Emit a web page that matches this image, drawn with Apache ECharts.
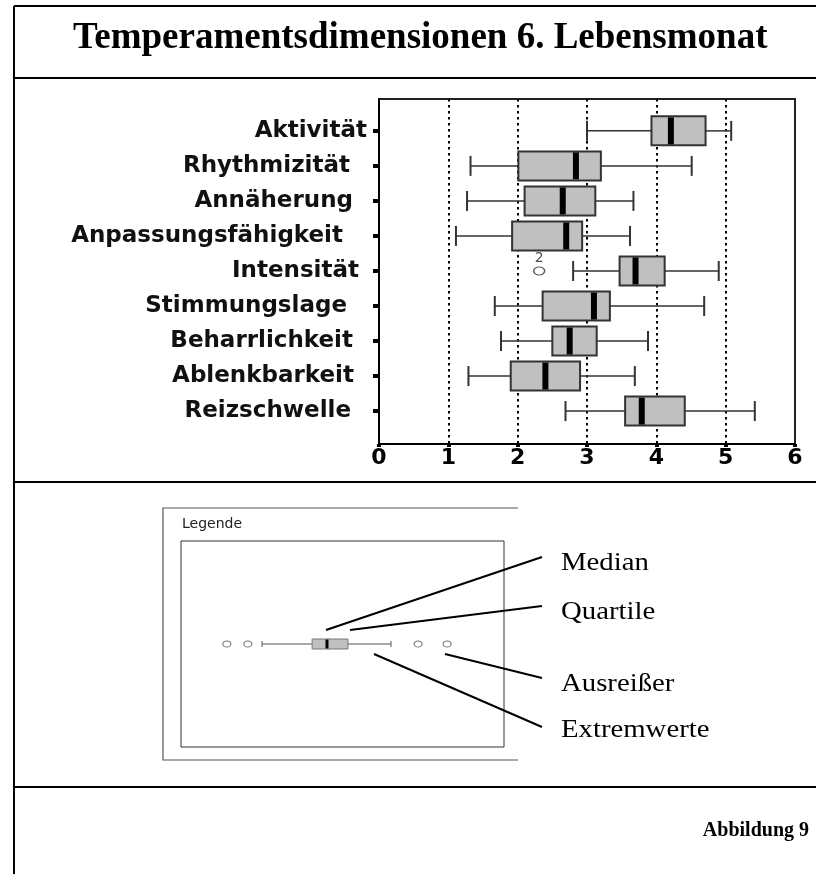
<!DOCTYPE html>
<html><head><meta charset="utf-8">
<script src="https://cdn.jsdelivr.net/npm/echarts@6/dist/echarts.min.js"></script>
<style>html,body{margin:0;padding:0;background:#fff}#c{width:816px;height:874px}</style>
</head><body><div id="c"></div>
<script>
// ---------- data ----------
const categories = ['Aktivität','Rhythmizität','Annäherung','Anpassungsfähigkeit','Intensität','Stimmungslage','Beharrlichkeit','Ablenkbarkeit','Reizschwelle'];
const lowWhisker  = [3.00, 1.32, 1.27, 1.11, 2.80, 1.67, 1.76, 1.29, 2.69];
const q1          = [3.93, 2.01, 2.10, 1.92, 3.47, 2.36, 2.50, 1.90, 3.55];
const median      = [4.21, 2.84, 2.65, 2.70, 3.70, 3.10, 2.75, 2.40, 3.79];
const q3          = [4.71, 3.20, 3.12, 2.93, 4.12, 3.33, 3.14, 2.90, 4.41];
const highWhisker = [5.08, 4.51, 3.67, 3.62, 4.90, 4.69, 3.88, 3.69, 5.42];
const xTicks = [0, 1, 2, 3, 4, 5, 6];
const outlierCategory = ['Intensität'];
const outlierValue = [2.31];
const outlierLabel = ['2'];
// legend illustration (arbitrary units on a hidden axis 0..100)
const legendBox = [25.1, 40.6, 45.2, 51.7, 65.0];
const legendOutliers = [14.2, 20.7, 73.4, 82.4];
const legendItems = ['Median', 'Quartile', 'Ausreißer', 'Extremwerte'];
const titleText = 'Temperamentsdimensionen 6. Lebensmonat';
const legendTitle = 'Legende';
const figureText = 'Abbildung 9';

// ---------- styling / layout ----------
const labelPads = [0, 17, 14, 24, 8, 20, 14, 13, 16];
const calloutLines = [[326,630,542,557],[350,630,542,606],[445,654,542,678],[374,654,542,727]];
const calloutTextY = [563, 612, 684, 730];
const sansFont = 'DejaVu Sans';
const serifFont = 'Liberation Serif';

function boxRenderer(s) {
  return function (params, api) {
    const c = api.value(0);
    const p = [1, 2, 3, 4, 5].map(k => api.coord([api.value(k), c]));
    const cy = p[0][1];
    const hb = s.box / 2, hc = s.cap / 2;
    const wStyle = { stroke: s.whisker, lineWidth: s.wl };
    const cStyle = { stroke: s.whisker, lineWidth: s.cw };
    return {
      type: 'group',
      children: [
        { type: 'line', shape: { x1: p[0][0], y1: cy, x2: p[1][0], y2: cy }, style: wStyle },
        { type: 'line', shape: { x1: p[3][0], y1: cy, x2: p[4][0], y2: cy }, style: wStyle },
        { type: 'line', shape: { x1: p[0][0], y1: cy - hc, x2: p[0][0], y2: cy + hc }, style: cStyle },
        { type: 'line', shape: { x1: p[4][0], y1: cy - hc, x2: p[4][0], y2: cy + hc }, style: cStyle },
        { type: 'rect', shape: { x: p[1][0], y: cy - hb, width: p[3][0] - p[1][0], height: s.box },
          style: { fill: s.fill, stroke: s.stroke, lineWidth: s.bl } },
        { type: 'rect', shape: { x: p[2][0] - s.med / 2, y: cy - hb + s.bl / 2, width: s.med, height: s.box - s.bl },
          style: { fill: '#000' } }
      ]
    };
  };
}

const rich = {};
categories.forEach((c, i) => {
  rich['p' + i] = { fontFamily: sansFont, fontWeight: 'bold', fontSize: 23, color: '#111', padding: [0, labelPads[i], 0, 0] };
});

const chart = echarts.init(document.getElementById('c'), null, { renderer: 'canvas' });

const graphics = [];
// outer frame
[[14,6,816,6],[14,6,14,874],[14,78,816,78],[14,482,816,482],[14,787,816,787]].forEach(l => {
  graphics.push({ type: 'line', shape: { x1: l[0], y1: l[1], x2: l[2], y2: l[3] }, style: { stroke: '#000', lineWidth: 2 }, silent: true });
});
// legend window frame
graphics.push({ type: 'polyline', shape: { points: [[518,508],[163,508],[163,760],[518,760]] }, style: { stroke: '#555', lineWidth: 1.2, fill: null }, silent: true });
graphics.push({ type: 'text', x: 182, y: 524, style: { text: legendTitle, font: '14px "DejaVu Sans"', fill: '#222', textVerticalAlign: 'middle', verticalAlign: 'middle' }, silent: true });
calloutLines.forEach(l => {
  graphics.push({ type: 'line', shape: { x1: l[0], y1: l[1], x2: l[2], y2: l[3] }, style: { stroke: '#000', lineWidth: 2 }, silent: true });
});
legendItems.forEach((t, i) => {
  graphics.push({ type: 'text', x: 561, y: calloutTextY[i], scaleX: 1.15,
    style: { text: t, font: '25px "Liberation Serif"', fill: '#000', verticalAlign: 'middle', textVerticalAlign: 'middle' }, silent: true });
});
graphics.push({ type: 'text', x: 809, y: 831,
  style: { text: figureText, font: 'bold 20px "Liberation Serif"', fill: '#000', align: 'right', textAlign: 'right', verticalAlign: 'middle', textVerticalAlign: 'middle' }, silent: true });

const option = {
  animation: false,
  backgroundColor: '#fff',
  title: {
    text: titleText, left: 73, top: 20, padding: 0,
    textStyle: { fontFamily: serifFont, fontWeight: 'bold', fontSize: 37, lineHeight: 37, color: '#000' }
  },
  grid: [
    { left: 379, top: 99, width: 416, height: 345, show: true, borderColor: '#222', borderWidth: 2, backgroundColor: 'transparent', containLabel: false },
    { left: 181, top: 541, width: 323, height: 206, show: true, borderColor: '#333', borderWidth: 1, backgroundColor: 'transparent', containLabel: false }
  ],
  xAxis: [
    {
      type: 'value', gridIndex: 0, min: xTicks[0], max: xTicks[xTicks.length - 1], interval: 1,
      axisLine: { show: true, lineStyle: { color: '#000', width: 2 } },
      axisTick: { show: true, length: 3, lineStyle: { color: '#000', width: 4 } },
      axisLabel: { show: true, margin: 3, fontFamily: sansFont, fontWeight: 'bold', fontSize: 22, color: '#000',
        formatter: v => String(xTicks[xTicks.indexOf(v)]) },
      splitLine: { show: true, showMinLine: false, showMaxLine: false, lineStyle: { color: '#000', width: 2, type: [2.5, 3.5] } }
    },
    { type: 'value', gridIndex: 1, min: 0, max: 100, show: false }
  ],
  yAxis: [
    {
      type: 'value', gridIndex: 0, inverse: true, min: 0.09, max: 9.94,
      axisLine: { show: true, lineStyle: { color: '#000', width: 2 } },
      axisTick: { show: true, customValues: categories.map((c, i) => i + 1), length: 6, lineStyle: { color: '#000', width: 4 } },
      axisLabel: {
        show: true, customValues: categories.map((c, i) => i + 1), margin: 12,
        formatter: v => '{p' + (v - 1) + '|' + categories[v - 1] + '}',
        rich: rich
      },
      splitLine: { show: false }
    },
    { type: 'value', gridIndex: 1, min: 0, max: 2, show: false }
  ],
  series: [
    {
      type: 'custom', name: 'Boxplot', xAxisIndex: 0, yAxisIndex: 0, clip: false,
      renderItem: boxRenderer({ box: 29, cap: 20, fill: '#c0c0c0', stroke: '#333', bl: 2, whisker: '#333', wl: 1.5, cw: 2, med: 6 }),
      encode: { x: [1, 2, 3, 4, 5], y: 0 },
      data: categories.map((c, i) => [i + 1, lowWhisker[i], q1[i], median[i], q3[i], highWhisker[i]])
    },
    {
      type: 'scatter', name: 'Ausreißer', xAxisIndex: 0, yAxisIndex: 0,
      symbol: 'circle', symbolSize: [11, 8],
      itemStyle: { color: '#fff', borderColor: '#333', borderWidth: 1.3 },
      label: { show: true, position: 'top', distance: 1, fontFamily: sansFont, fontSize: 14, color: '#222',
        formatter: p => outlierLabel[p.dataIndex] },
      data: outlierCategory.map((c, i) => [outlierValue[i], categories.indexOf(c) + 1])
    },
    {
      type: 'custom', name: 'Legende', xAxisIndex: 1, yAxisIndex: 1, clip: false,
      renderItem: boxRenderer({ box: 10, cap: 6, fill: '#c0c0c0', stroke: '#777', bl: 1, whisker: '#555', wl: 1, cw: 1, med: 3 }),
      encode: { x: [1, 2, 3, 4, 5], y: 0 },
      data: [[1].concat(legendBox)]
    },
    {
      type: 'scatter', name: 'Legende Ausreißer', xAxisIndex: 1, yAxisIndex: 1,
      symbol: 'circle', symbolSize: [8, 6],
      itemStyle: { color: '#fff', borderColor: '#555', borderWidth: 1 },
      data: legendOutliers.map(v => [v, 1])
    }
  ],
  graphic: { elements: graphics }
};
chart.setOption(option);
</script>
</body></html>
